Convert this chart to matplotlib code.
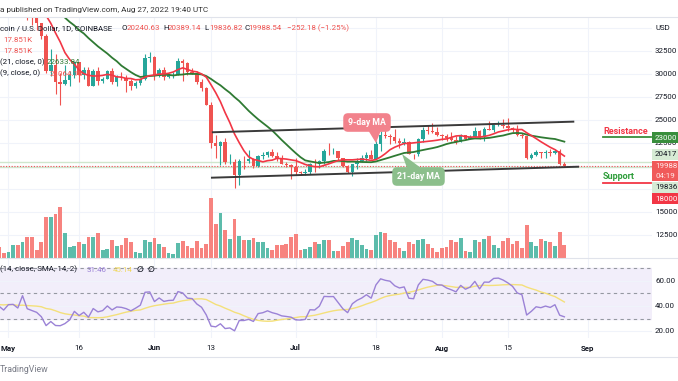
import numpy as np
import pandas as pd
import matplotlib
matplotlib.use('Agg')
import matplotlib.pyplot as plt
import matplotlib.transforms as mtransforms
from matplotlib.patches import Rectangle, Polygon

W, H = 678, 381
plt.rcParams['font.family'] = ['Roboto', 'DejaVu Sans']

# BTC/USD daily, Coinbase.
# closes before the visible window, only there so the MAs / RSI are warmed up
warmup_start = '2022-03-01'
warmup_close = [44420, 43920, 42450, 39140, 39400, 38420, 37990, 38740, 41980, 39440,
                38790, 38820, 37790, 39670, 39280, 41140, 40950, 41800, 42200, 41280,
                41020, 42370, 42900, 43970, 44340, 44540, 46830, 47130, 47440, 47070,
                45530,
                46290, 45860, 46410, 46620, 45520, 43180, 43450, 42280, 42780, 42210,
                39530, 40080, 41150, 39940, 40550, 40400, 39700, 40800, 41500, 41370,
                40480, 39710, 39450, 39460, 40430, 38120, 39240]

# Apr 28 .. Aug 27
close = [39740, 38600, 37650,
         38470, 38520, 37730, 39700, 36550, 36000, 35470, 34060, 30300, 31000,
         29050, 28940, 29280, 29860, 31300, 29870, 30440, 28700, 30300, 29200,
         29430, 30290, 29110, 29650, 29540, 29200, 28630, 29030, 29470, 31720, 31790,
         29800, 30460, 29700, 29860, 29900, 31370, 31130, 30200, 30110, 29090,
         28420, 26570, 22490, 22140, 22580, 20380, 20470, 19010, 20550, 20540,
         20720, 19970, 21100, 21230, 21500, 21030, 20730, 20250, 20100, 19930,
         19290, 19250, 19310, 20230, 20190, 20560, 21620, 21590, 21600, 20850,
         19960, 19330, 20210, 20580, 20830, 21190, 20780, 22420, 23400, 23240,
         23150, 22680, 22450, 22580, 21310, 21250, 22950, 23850, 23770, 23640, 23300,
         23270, 22990, 22820, 22630, 23300, 22960, 23180, 23810, 23160, 23950,
         23940, 24400, 24440, 24300, 24100, 23850, 23340, 23190, 20830, 21140,
         21520, 21400, 21530, 21370, 21570, 20240.63, 19988.54]
high = [40370, 39930, 38800,
        38650, 39150, 38640, 39970, 39840, 36650, 36140, 35490, 34300, 32650,
        32150, 30030, 31000, 30350, 31330, 31300, 30780, 30680, 30550, 30760,
        29650, 30460, 30650, 29840, 30210, 29850, 29380, 29250, 29560, 32190, 32370,
        31970, 30650, 30690, 29950, 30160, 31750, 31560, 31320, 30670, 30350,
        29450, 28530, 26890, 23340, 22750, 22980, 21340, 20770, 20800, 21060,
        21680, 20850, 21200, 21530, 21590, 21860, 21510, 21180, 20400, 20180,
        20880, 19420, 19640, 20350, 20720, 20680, 21830, 22500, 21960, 21600,
        20860, 20050, 20250, 20880, 21200, 21560, 21680, 22730, 23750, 24280,
        23430, 24020, 22980, 23010, 22660, 21340, 23080, 24190, 24420, 24650, 24170,
        23480, 23450, 23640, 23220, 23460, 23350, 23380, 24230, 23910, 24200,
        24900, 24450, 24890, 25050, 25210, 24240, 24450, 23600, 23220, 21390,
        21700, 21540, 21680, 21830, 21830, 21880, 20389.14]
low = [38880, 38180, 37580,
       37390, 38060, 37510, 37670, 35860, 35250, 34760, 33720, 30030, 29730,
       27770, 26560, 28750, 28620, 29500, 29100, 29460, 28660, 28700, 28740,
       28960, 29450, 28900, 28650, 29300, 28010, 28250, 28480, 28820, 29300, 31220,
       29320, 29600, 29270, 29490, 29540, 29880, 29220, 29850, 29950, 28860,
       28100, 26560, 21950, 20850, 20100, 20230, 20240, 17600, 17950, 19670,
       20350, 19800, 19910, 20750, 20920, 20980, 20510, 20200, 19850, 18630,
       19000, 19050, 18990, 19070, 19300, 19780, 20240, 21200, 21320, 20680,
       19870, 19240, 18920, 19650, 20380, 20500, 20760, 20760, 21600, 23000,
       22380, 22500, 21960, 22280, 21270, 20720, 21040, 22600, 23430, 23520, 23240,
       22850, 22670, 22700, 22420, 22590, 22940, 22870, 23140, 22880, 22670,
       23890, 23630, 24340, 24160, 23790, 23700, 23210, 23080, 20800, 20800,
       21100, 20890, 20890, 21120, 21330, 20130, 19836.82]
# volume in thousands
volume_k = [25.0, 14.7, 6.9,
            8.7, 17.9, 17.9, 21.5, 28.9, 28.9, 11.5, 22.4, 55.9, 55.9,
            60.9, 70.5, 34.4, 15.1, 16.9, 22.4, 19.7, 28.9, 28.9, 34.4,
            10.5, 12.4, 25.2, 16.9, 18.3, 27.0, 21.5, 7.8, 6.9, 25.2, 21.5,
            27.0, 18.8, 15.1, 6.9, 6.0, 20.6, 23.4, 16.9, 13.3, 23.4,
            13.3, 18.8, 82.0, 47.2, 62.3, 38.0, 26.6, 53.1, 29.8, 25.2,
            24.3, 27.5, 21.5, 21.5, 13.3, 11.5, 17.9, 17.9, 18.8, 28.9,
            33.4, 11.5, 12.4, 15.1, 22.4, 18.8, 25.2, 25.2, 9.6, 9.6,
            16.0, 21.5, 27.9, 24.3, 17.9, 12.4, 11.5, 31.6, 35.3, 34.4,
            24.3, 21.5, 13.3, 9.6, 22.4, 19.7, 24.3, 26.1, 18.8, 13.3, 8.7,
            13.3, 15.1, 24.3, 21.5, 27.0, 9.6, 8.7, 24.3, 22.4, 26.1,
            29.8, 17.9, 14.2, 23.4, 27.9, 19.7, 23.4, 14.2, 45.3, 22.4,
            16.0, 26.1, 23.4, 22.4, 16.9, 36.2, 17.851]

# channel drawn on the chart: day offset from May 1, price
upper_channel_days = [43.4, 119.9]
upper_channel_price = [23650, 24800]
lower_channel_days = [43.2, 120.9]
lower_channel_price = [18720, 19910]

price_ticks = [12500, 15000, 22500, 25000, 27500, 30000, 32500]
rsi_ticks = [20, 40, 60]
date_ticks = ['2022-05-01', '2022-05-16', '2022-06-01', '2022-06-13', '2022-07-01',
              '2022-07-18', '2022-08-01', '2022-08-15', '2022-09-01']
date_labels = ['May', '16', 'Jun', '13', 'Jul', '18', 'Aug', '15', 'Sep']

UP, DOWN = '#26a69a', '#ef5350'
VOL_UP, VOL_DOWN = '#5cbcab', '#f7837f'
GRID = '#f0f3fa'
TXT = '#131722'
ORIGIN = pd.Timestamp('2022-05-01')
FS = 5.7

# ---- frame + indicators
all_close = warmup_close + close
dates = pd.date_range(warmup_start, periods=len(all_close), freq='D')
df = pd.DataFrame({'close': all_close}, index=dates)
df['ma9'] = df['close'].rolling(9).mean()
df['ma21'] = df['close'].rolling(21).mean()
delta = df['close'].diff()
gain = delta.clip(lower=0).ewm(alpha=1 / 14, adjust=False).mean()
loss = (-delta.clip(upper=0)).ewm(alpha=1 / 14, adjust=False).mean()
df['rsi'] = 100 - 100 / (1 + gain / loss)
df['rsi_sma'] = df['rsi'].rolling(14).mean()
df['open'] = df['close'].shift(1)

view = df.loc['2022-04-28':].copy()
view['high'] = high
view['low'] = low
view['volume'] = volume_k
x = np.asarray((view.index - ORIGIN).days, dtype=float)
is_up = (view['close'] >= view['open']).values


def fxy(px, py):
    return px / W, 1 - py / H


fig = plt.figure(figsize=(W / 100, H / 100), dpi=100)
fig.patch.set_facecolor('white')

pane_right = 652
ax = fig.add_axes([0, 1 - 258 / H, pane_right / W, 240 / H])
axv = ax.twinx()
ax.set_zorder(2)
axv.set_zorder(1)
ax.patch.set_visible(False)
axr = fig.add_axes([0, 1 - 338 / H, pane_right / W, 80 / H], sharex=ax)

ax.set_xlim(-1.78, 136.6)
ax.set_ylim(10004, 36049)
axv.set_ylim(0, 330)
axr.set_ylim(14.7, 77.9)

for a in (ax, axv, axr):
    for s in a.spines.values():
        s.set_visible(False)
    a.tick_params(left=False, right=False, bottom=False, top=False,
                  labelleft=False, labelright=False, labelbottom=False)

# grid (kept behind the volume bars)
tick_x = [(pd.Timestamp(d) - ORIGIN).days for d in date_ticks]
grid_tr = mtransforms.blended_transform_factory(axv.transAxes, ax.transData)
for p in range(12500, 35001, 2500):
    axv.plot([0, 1], [p, p], transform=grid_tr, color=GRID, lw=0.8, zorder=0)
for tx in tick_x:
    axv.axvline(tx, color=GRID, lw=0.8, zorder=0)
    axr.axvline(tx, color=GRID, lw=0.8, zorder=0)

# volume
axv.bar(x, view['volume'], width=0.8,
        color=np.where(is_up, VOL_UP, VOL_DOWN), zorder=2)

# candles
cols = np.where(is_up, UP, DOWN)
ax.vlines(x, view['low'], view['high'], colors=cols, lw=0.8, zorder=3)
body = np.maximum((view['close'] - view['open']).abs().values, 40)
ax.bar(x, body, bottom=np.minimum(view['open'], view['close']), width=0.74,
       color=cols, zorder=4)

# moving averages
ax.plot(x, view['ma21'], color='#2f7a33', lw=1.3, zorder=5)
ax.plot(x, view['ma9'], color='#f23645', lw=1.2, zorder=5)

# channel
ax.plot(upper_channel_days, upper_channel_price, color='#3a3a3a', lw=1.4, zorder=6)
ax.plot(lower_channel_days, lower_channel_price, color='#3a3a3a', lw=1.4, zorder=6)

# price lines
ax.axhline(20417, color='#cfe6cd', lw=1.0, zorder=2)
ax.axhline(19836.82, color='#cfe6cd', lw=1.0, zorder=2)
ax.axhline(close[-1], color=DOWN, lw=0.8, ls=(0, (1, 1.5)), zorder=2)

# RSI pane
axr.axhspan(30, 70, color='#f2eefa', zorder=0)
for v in rsi_ticks:
    axr.axhline(v, color=GRID, lw=0.8, zorder=0.5)
for v in (70, 50, 30):
    axr.axhline(v, color='#9598a1', lw=0.8, ls=(0, (3, 3)), zorder=1)
axr.plot(x, view['rsi_sma'], color='#f4e07a', lw=1.0, zorder=3)
axr.plot(x, view['rsi'], color='#9b82d6', lw=1.0, zorder=4)

# right axis labels
LX = 655
ytr = ax.get_yaxis_transform()
for p in price_ticks:
    ax.text(LX / pane_right, p, str(p), transform=ytr, fontsize=FS, color=TXT,
            va='center', ha='left', clip_on=False)
rtr = axr.get_yaxis_transform()
for v in rsi_ticks:
    axr.text(LX / pane_right, v, f'{v:.2f}', transform=rtr, fontsize=FS,
             color=TXT, va='center', ha='left', clip_on=False)
fig.text(*fxy(LX, 27.7), 'USD', fontsize=FS, color=TXT, va='center')

# date axis
xtr = axr.get_xaxis_transform()
for tx, lab in zip(tick_x, date_labels):
    bold = not lab.isdigit()
    axr.text(tx, -0.125, lab, transform=xtr, ha='center', va='center',
             fontsize=FS, color=TXT, fontweight='bold' if bold else 'normal')

# coloured price tags on the axis
tags = [(131.8, 143.2, '#388e3c', 'white', ['23000']),
        (148.6, 159.6, '#d6ebd4', TXT, ['20417']),
        (160.6, 181.2, '#f05a5a', '#ffe9e9', ['19988', '04:19']),
        (181.8, 192.8, '#d6ebd4', TXT, ['19836']),
        (193.4, 204.4, '#f23645', 'white', ['18000'])]
for y0, y1, fc, tc, lines in tags:
    fig.add_artist(Rectangle(fxy(652, y1), 26 / W, (y1 - y0) / H,
                             transform=fig.transFigure, fc=fc, ec='none', zorder=8))
    step = (y1 - y0) / len(lines)
    for i, s in enumerate(lines):
        fig.text(*fxy(LX, y0 + step * (i + 0.5)), s, fontsize=FS, color=tc,
                 va='center', ha='left', zorder=9)

# resistance / support notes
fig.text(*fxy(603, 131.5), 'Resistance', fontsize=6.5, fontweight='bold',
         color='#f23645', va='center', ha='left')
fig.add_artist(plt.Line2D([602.5 / W, 651 / W], [1 - 136.6 / H] * 2,
                          color='#388e3c', lw=1.3))
fig.text(*fxy(603, 176.8), 'Support', fontsize=6.5, fontweight='bold',
         color='#2e9d3a', va='center', ha='left')
fig.add_artist(plt.Line2D([602.5 / W, 651 / W], [1 - 183.3 / H] * 2,
                          color='#f23645', lw=1.3))

# MA callouts
fig.add_artist(Polygon([fxy(368, 130), fxy(381, 130), fxy(376, 143)],
                       closed=True, transform=fig.transFigure, fc='#f2828c',
                       ec='none', zorder=10))
fig.text(*fxy(367, 122.5), '9-day MA', fontsize=6.3, fontweight='bold', color='white',
         ha='center', va='center', zorder=11,
         bbox=dict(boxstyle='round,pad=0.55', fc='#f2828c', ec='none'))
fig.add_artist(Polygon([fxy(407, 168), fxy(421, 168), fxy(402, 154)],
                       closed=True, transform=fig.transFigure, fc='#8cbf8c',
                       ec='none', zorder=10))
fig.text(*fxy(418.5, 176.5), '21-day MA', fontsize=6.3, fontweight='bold', color='white',
         ha='center', va='center', zorder=11,
         bbox=dict(boxstyle='round,pad=0.55', fc='#8cbf8c', ec='none'))

# legends
fig.text(*fxy(0, 10), 'a published on TradingView.com, Aug 27, 2022 19:40 UTC',
         fontsize=5.9, color='#333333', va='center')
fig.text(*fxy(0, 28), 'coin / U.S. Dollar, 1D, COINBASE', fontsize=FS, color=TXT,
         va='center', zorder=12)
for px, key, val in [(121.7, 'O', '20240.63'), (163.3, 'H', '20389.14'),
                     (204.7, 'L', '19836.82'), (244.3, 'C', '19988.54')]:
    fig.text(*fxy(px, 28), key, fontsize=FS, color=TXT, va='center', zorder=12)
    fig.text(*fxy(px + 4.5, 28), val, fontsize=FS, color=DOWN, va='center', zorder=12)
fig.text(*fxy(286.7, 28), '\u2212252.18 (\u22121.25%)', fontsize=FS, color=DOWN,
         va='center', zorder=12)
fig.text(*fxy(3, 39.5), '17.851K', fontsize=FS, color=DOWN, va='center', zorder=12)
fig.text(*fxy(3, 50.7), '17.851K', fontsize=FS, color=DOWN, va='center', zorder=12)
fig.text(*fxy(0, 62), '(21, close, 0)', fontsize=FS, color=TXT, va='center', zorder=12)
fig.text(*fxy(47, 62), '22633.84', fontsize=FS, color='#2f7a33', va='center', zorder=12)
fig.text(*fxy(0, 73.5), '(9, close, 0)', fontsize=FS, color=TXT, va='center', zorder=12)
fig.text(*fxy(49.5, 73.5), '21064.18', fontsize=FS, color=DOWN, va='center', zorder=12)

fig.text(*fxy(0, 269.5), '(14, close, SMA, 14, 2)', fontsize=FS, color=TXT,
         va='center', zorder=12)
fig.text(*fxy(87, 269.5), '31.46', fontsize=FS, color='#9b82d6', va='center', zorder=12)
fig.text(*fxy(113, 269.5), '45.14', fontsize=FS, color='#f0d860', va='center', zorder=12)
fig.text(*fxy(137, 269.5), '\u2205', fontsize=FS, color=TXT, fontweight='bold',
         va='center', zorder=12)
fig.text(*fxy(148, 269.5), '\u2205', fontsize=FS, color=TXT, fontweight='bold',
         va='center', zorder=12)

# separators and footer
for py in (17, 258, 357):
    fig.add_artist(plt.Line2D([0, 1], [1 - py / H] * 2, color='#e0e3eb', lw=0.8))
fig.text(*fxy(0, 369), 'TradingView', fontsize=6.3, color='#787b86', va='center')

fig.savefig('out.png', dpi=100, facecolor='white')
